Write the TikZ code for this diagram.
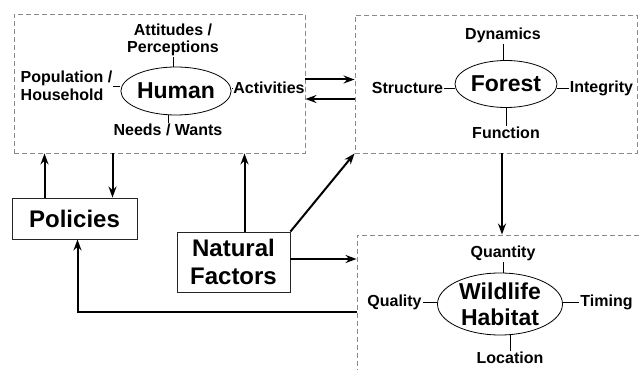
\documentclass[tikz,border=0pt]{standalone}
\usepackage{fontspec}
\setsansfont{Liberation Sans}
\usepackage{tikz}
\usetikzlibrary{arrows.meta,shapes.geometric}
\definecolor{zonerule}{HTML}{8A8A8A}

\begin{document}
\begin{tikzpicture}[x=1pt,y=1pt,
      zone/.style={draw=zonerule,dash pattern=on 5pt off 3pt,line width=0.9pt,inner sep=0pt},
      core/.style={ellipse,draw,line width=0.8pt,inner sep=0pt,align=center,
                   font=\sffamily\bfseries\fontsize{23}{26}\selectfont},
      aspect/.style={inner sep=1pt,align=center,font=\sffamily\bfseries\fontsize{16}{17.5}\selectfont},
      factor/.style={draw=black!85,line width=0.9pt,inner sep=0pt,align=center,
                     font=\sffamily\bfseries\fontsize{24}{28}\selectfont},
      tick/.style={line width=0.7pt},
      flow/.style={-{Stealth[length=11pt,width=8pt]},line width=2pt}]
    \useasboundingbox (0,0) rectangle (641,370);
    \node[zone,minimum width=291pt,minimum height=139pt] (hbox) at (159.5,286.5) {};
    \node[zone,minimum width=282pt,minimum height=138pt] (fbox) at (496,286) {};
    \node[zone,minimum width=298pt,minimum height=150pt] (wbox) at (506,60) {};
    \node[core,minimum width=102pt,minimum height=48pt] (hum) at (176,279) {Human};
    \node[core,minimum width=102pt,minimum height=47pt] (for) at (506,286) {Forest};
    \node[core,minimum width=125pt,minimum height=62pt] (wild) at (500,66) {Wildlife\\Habitat};
    \node[aspect] (att) at (173,330) {Attitudes /\\Perceptions};
    \node[aspect] (need) at (168,240) {Needs / Wants};
    \node[aspect,align=left] (pop) at (66.5,284) {Population /\\Household};
    \node[aspect] (act) at (269,282) {Activities};
    \node[aspect] (dyn) at (503,335) {Dynamics};
    \node[aspect] (fun) at (506,237) {Function};
    \node[aspect] (str) at (407.5,282) {Structure};
    \node[aspect] (integ) at (601.5,282) {Integrity};
    \node[aspect] (qty) at (503,117) {Quantity};
    \node[aspect] (loc) at (510,12) {Location};
    \node[aspect] (qual) at (394.5,68) {Quality};
    \node[aspect] (tim) at (606.5,68) {Timing};
    \node[factor,minimum width=125pt,minimum height=41pt] (pol) at (74.5,151.5) {Policies};
    \node[factor,minimum width=113pt,minimum height=60pt] (nat) at (233.5,108) {Natural\\Factors};
    \foreach \a/\b in {att.south/hum.north,need.north/hum.south,dyn.south/for.north,
                       fun.north/for.south,qty.south/wild.north,loc.north/wild.south}
      \draw[tick] (\a) -- (\a |- \b);
    \foreach \a/\b in {pop.east/hum.west,act.west/hum.east,str.east/for.west,
                       integ.west/for.east,qual.east/wild.west,tim.west/wild.east}
      \draw[tick] (\a) -- (\a -| \b);
    \draw[flow] ([yshift=4pt]hbox.east) -- ([yshift=4pt]hbox.east -| fbox.west);
    \draw[flow] ([yshift=-15pt]fbox.west) -- ([yshift=-15pt]fbox.west -| hbox.east);
    \draw[flow] ([xshift=6pt]fbox.south) -- ([xshift=6pt]fbox.south |- wbox.north);
    \draw[flow] ([xshift=-30pt]pol.north) -- ([xshift=-30pt]pol.north |- hbox.south);
    \draw[flow] ([xshift=38pt]pol.north |- hbox.south) -- ([xshift=38pt]pol.north);
    \draw[flow] ([xshift=11pt]nat.north) -- ([xshift=11pt]nat.north |- hbox.south);
    \draw[flow] (nat.north east) -- (fbox.south west);
    \draw[flow] ([yshift=3pt]nat.east) -- ([yshift=3pt]nat.east -| wbox.west);
    \draw[flow] ([yshift=-2pt]wbox.west) -| ([xshift=3pt]pol.south);
  \end{tikzpicture}
\end{document}
